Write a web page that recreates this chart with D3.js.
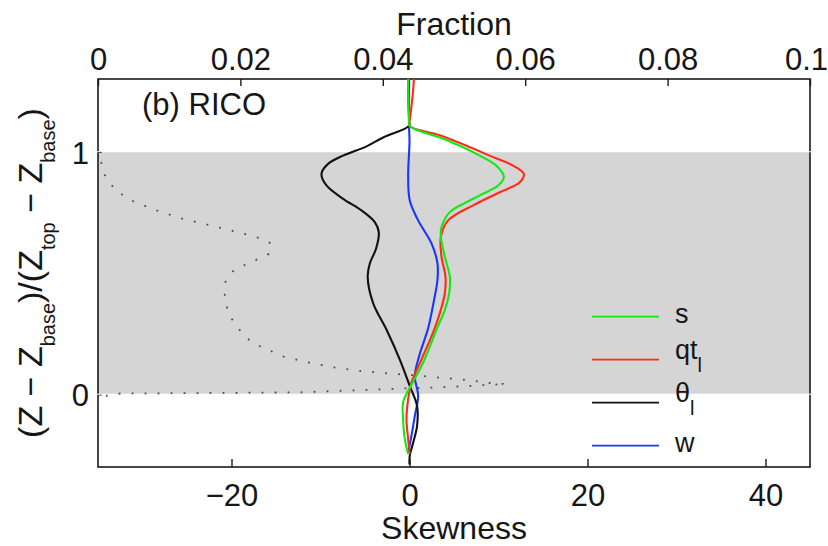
<!DOCTYPE html>
<html>
<head>
<meta charset="utf-8">
<script src="https://cdn.jsdelivr.net/npm/d3@7"></script>
<style>
  html, body { margin: 0; padding: 0; background: #fff; }
  svg { display: block; }
  text { font-family: "Liberation Sans", Arial, Helvetica, sans-serif; fill: #161616; }
</style>
</head>
<body>
<svg id="chart" width="828" height="546"></svg>
<script>
// Skewness profiles, RICO case: [skewness, normalised height]
const skewS = [
  [-0.15, 1.30], [-0.1, 1.20], [-0.05, 1.13], [0.0, 1.107], [0.6, 1.093], [3.4, 1.059],
  [5.65, 1.025], [7.9, 0.984], [9.74, 0.943], [10.6, 0.895], [9.96, 0.861], [8.0, 0.822],
  [6.3, 0.790], [4.53, 0.751], [3.6, 0.690], [3.52, 0.649], [3.97, 0.567], [4.53, 0.485],
  [4.46, 0.417], [3.97, 0.348], [3.03, 0.266], [1.53, 0.130], [0.03, 0.027], [-0.72, -0.034],
  [-0.72, -0.102], [-0.53, -0.184], [-0.15, -0.246]
];
const skewQt = [
  [0.5, 1.30], [0.35, 1.23], [0.05, 1.135], [0.0, 1.107], [3.4, 1.068], [6.4, 1.025],
  [9.0, 0.984], [11.64, 0.943], [12.84, 0.909], [12.4, 0.874], [10.15, 0.833], [7.2, 0.780],
  [4.34, 0.717], [3.52, 0.649], [3.6, 0.567], [4.04, 0.485], [3.97, 0.417], [3.52, 0.348],
  [2.84, 0.273], [1.35, 0.143], [0.22, 0.048], [-0.15, -0.02], [-0.34, -0.102],
  [-0.15, -0.184], [0.03, -0.246]
];
const skewThetaL = [
  [-0.1, 1.30], [-0.1, 1.20], [-0.05, 1.13], [-0.05, 1.107], [-2.96, 1.059], [-4.83, 1.022],
  [-7.46, 0.984], [-9.15, 0.950], [-9.89, 0.909], [-9.33, 0.861], [-7.46, 0.806],
  [-5.39, 0.758], [-3.9, 0.710], [-3.45, 0.669], [-3.75, 0.601], [-4.45, 0.540],
  [-4.7, 0.485], [-4.09, 0.376], [-2.58, 0.266], [-1.09, 0.143], [0.03, 0.034],
  [0.85, -0.048], [0.85, -0.130], [0.48, -0.191], [0.03, -0.253], [0.0, -0.29]
];
const skewW = [
  [-0.05, 1.30], [-0.05, 1.107], [0.0, 1.04], [-0.15, 0.90], [0.03, 0.799], [0.97, 0.717],
  [2.47, 0.622], [3.14, 0.540], [3.14, 0.471], [2.76, 0.389], [2.1, 0.273], [1.08, 0.157],
  [0.6, 0.075], [0.97, -0.007], [0.6, -0.089], [0.22, -0.171], [-0.15, -0.239]
];

// Cloud fraction profile: [fraction, normalised height]
const cloudFraction = [
  [0.0011, -0.007], [0.0031, 0.003], [0.0143, 0.005], [0.0284, 0.008], [0.042, 0.023],
  [0.0494, 0.030], [0.055, 0.039], [0.0573, 0.042], [0.0555, 0.045], [0.0518, 0.059],
  [0.0482, 0.068], [0.0445, 0.078], [0.0407, 0.086], [0.0371, 0.095], [0.0334, 0.109],
  [0.0297, 0.130], [0.0261, 0.155], [0.0228, 0.197], [0.0212, 0.225], [0.0199, 0.265],
  [0.0188, 0.310], [0.0181, 0.359], [0.0178, 0.411], [0.0179, 0.464], [0.0190, 0.508],
  [0.0206, 0.533], [0.0224, 0.557], [0.0240, 0.579], [0.0243, 0.622], [0.0226, 0.645],
  [0.0190, 0.673], [0.0153, 0.700], [0.0117, 0.725], [0.0082, 0.758], [0.0047, 0.799],
  [0.0031, 0.829], [0.0018, 0.865], [0.0008, 0.911], [0.0004, 0.963], [0.0001, 0.996]
];

// Cloud layer (base to top) shaded band
const cloudLayer = [0, 1];

// Axis ticks
const skewTicks = [-20, 0, 20, 40];
const fracTicks = [0, 0.02, 0.04, 0.06, 0.08, 0.1];
const fracTickLabels = ["0", "0.02", "0.04", "0.06", "0.08", "0.1"];
const heightTicks = [0, 1];

// Series and legend entries
const seriesNames = ["s", "qt", "θ", "w"];
const seriesSubs = ["", "l", "l", ""];
const seriesColors = ["#14e814", "#ff2b12", "#111111", "#1836ff"];
const seriesData = [skewS, skewQt, skewThetaL, skewW];

const svg = d3.select("#chart");
const margin = { left: 98, top: 79, right: 18, bottom: 79 };
const W = 828 - margin.left - margin.right;
const H = 546 - margin.top - margin.bottom;
const g = svg.append("g").attr("transform", `translate(${margin.left},${margin.top})`);

const x = d3.scaleLinear().domain([-35, 45]).range([0, W]);
const xf = d3.scaleLinear().domain([0, 0.1]).range([0, W]);
const y = d3.scaleLinear().domain([-0.3, 1.3]).range([H, 0]);

// shaded cloud layer
g.append("rect")
  .attr("x", 0).attr("width", W)
  .attr("y", y(cloudLayer[1])).attr("height", y(cloudLayer[0]) - y(cloudLayer[1]))
  .attr("fill", "#d5d5d5");

// axes
const fontMain = 31;
const axB = g.append("g").attr("transform", `translate(0,${H})`)
  .call(d3.axisBottom(x).tickValues(skewTicks).tickSizeInner(-8).tickSizeOuter(0));
axB.selectAll("text").attr("y", 39).attr("dy", null);

const axT = g.append("g")
  .call(d3.axisTop(xf).tickValues(fracTicks).tickFormat((d, i) => fracTickLabels[i])
    .tickSizeInner(-7).tickSizeOuter(0));
axT.selectAll("text").attr("y", -9).attr("dy", null)
  .attr("dx", (d, i) => i === fracTicks.length - 1 ? -4 : null);

const axL = g.append("g")
  .call(d3.axisLeft(y).tickValues(heightTicks).tickFormat(d3.format("d"))
    .tickSizeInner(-4).tickSizeOuter(0));
axL.selectAll("text").attr("x", -9).attr("dy", "0.37em");

[axB, axT, axL].forEach(a => {
  a.select(".domain").remove();
  a.attr("font-family", null).attr("font-size", null);
  a.selectAll("text").style("font-size", fontMain + "px").attr("fill", "#161616");
  a.selectAll(".tick line").attr("stroke", "#1a1a1a").attr("stroke-width", 1.4);
});

// frame
g.append("rect").attr("x", 0).attr("y", 0).attr("width", W).attr("height", H)
  .attr("fill", "none").attr("stroke", "#1a1a1a").attr("stroke-width", 1.6);

// white edges of the shaded band
cloudLayer.forEach(v => {
  g.append("line").attr("x1", -1).attr("x2", W + 1)
    .attr("y1", y(v)).attr("y2", y(v))
    .attr("stroke", "#fff").attr("stroke-width", 1.2);
});

// clip for data
svg.append("defs").append("clipPath").attr("id", "plotclip")
  .append("rect").attr("width", W).attr("height", H);
const dataG = g.append("g").attr("clip-path", "url(#plotclip)");

// cloud fraction, dotted
const fracLine = d3.line().x(d => xf(d[0])).y(d => y(d[1]));
dataG.append("path").datum(cloudFraction)
  .attr("d", fracLine)
  .attr("fill", "none").attr("stroke", "#4a4a4a").attr("stroke-width", 1.8)
  .attr("stroke-dasharray", "1.8 11.2");

// skewness profiles
const skewLine = d3.line().x(d => x(d[0])).y(d => y(d[1])).curve(d3.curveCatmullRom.alpha(0.5));
[3, 2, 1, 0].forEach(i => {
  const pts = seriesData[i].slice().sort((a, b) => b[1] - a[1]);
  dataG.append("path").datum(pts)
    .attr("d", skewLine)
    .attr("fill", "none").attr("stroke", seriesColors[i])
    .attr("stroke-width", 2.1).attr("stroke-linejoin", "round");
});

// panel title
g.append("text").attr("x", 44).attr("y", 36).style("font-size", fontMain + "px").text("(b) RICO");

// legend
const legX0 = 494, legX1 = 561, legTextX = 577, legY0 = 237.7, legStep = 43;
seriesNames.forEach((name, i) => {
  const ly = legY0 + i * legStep;
  g.append("line").attr("x1", legX0).attr("x2", legX1).attr("y1", ly).attr("y2", ly)
    .attr("stroke", seriesColors[i]).attr("stroke-width", 1.8);
  const t = g.append("text").attr("x", legTextX)
    .attr("y", ly + (seriesSubs[i] ? -1 : 6.5))
    .style("font-size", "27px");
  t.append("tspan").text(name);
  if (seriesSubs[i]) {
    t.append("tspan").attr("dy", 13).style("font-size", "20px").text(seriesSubs[i]);
  }
});

// axis titles
svg.append("text").attr("x", margin.left + W / 2).attr("y", 539)
  .attr("text-anchor", "middle").style("font-size", "32px").text("Skewness");
svg.append("text").attr("x", margin.left + W / 2).attr("y", 35)
  .attr("text-anchor", "middle").style("font-size", "32px").text("Fraction");

// y title with subscripts
const yt = svg.append("text")
  .attr("transform", `translate(41.5,${margin.top + H / 2}) rotate(-90)`)
  .attr("text-anchor", "middle").style("font-size", "34px");
const parts = [
  ["(Z − Z", 0], ["base", 1], [")/(Z", 0], ["top", 1], [" − Z", 0], ["base", 1], [")", 0]
];
let prevSub = 0;
parts.forEach(([txt, sub]) => {
  const ts = yt.append("tspan").text(txt);
  const dy = (sub - prevSub) * 13;
  if (dy) ts.attr("dy", dy);
  if (sub) ts.style("font-size", "20px");
  prevSub = sub;
});
</script>
</body>
</html>
